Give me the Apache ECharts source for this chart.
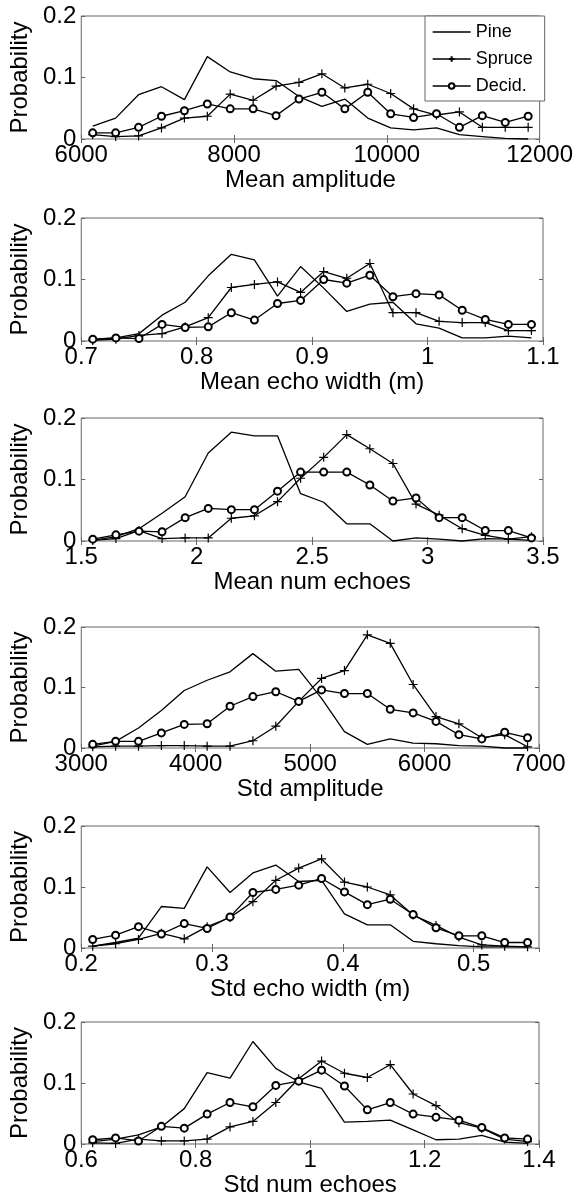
<!DOCTYPE html>
<html>
<head>
<meta charset="UTF-8">
<title>Feature histograms</title>
<script src="https://cdn.jsdelivr.net/npm/echarts@6/dist/echarts.min.js"></script>
<style>
    html,body{margin:0;padding:0;background:#fff;}
    #chart{width:576px;height:1198px;}
</style>
</head>
<body>
<div id="chart"></div>
<script>
// Mean amplitude
var maX = [6150, 6450, 6750, 7050, 7350, 7650, 7950, 8250, 8550, 8850, 9150, 9450, 9750, 10050, 10350, 10650, 10950, 11250, 11550, 11850];
var maPine = [0.021, 0.034, 0.072, 0.085, 0.064, 0.134, 0.109, 0.098, 0.095, 0.069, 0.053, 0.065, 0.034, 0.018, 0.015, 0.018, 0.007, 0.004, 0.001, 0.000];
var maSpruce = [0.007, 0.004, 0.005, 0.018, 0.034, 0.037, 0.073, 0.063, 0.086, 0.092, 0.106, 0.083, 0.089, 0.074, 0.049, 0.039, 0.044, 0.019, 0.019, 0.019];
var maDecid = [0.010, 0.010, 0.019, 0.037, 0.046, 0.057, 0.049, 0.049, 0.038, 0.065, 0.076, 0.049, 0.076, 0.041, 0.035, 0.041, 0.019, 0.038, 0.027, 0.037];

// Mean echo width (m)
var mwX = [0.71, 0.73, 0.75, 0.77, 0.79, 0.81, 0.83, 0.85, 0.87, 0.89, 0.91, 0.93, 0.95, 0.97, 0.99, 1.01, 1.03, 1.05, 1.07, 1.09];
var mwPine = [0.002, 0.005, 0.012, 0.042, 0.063, 0.106, 0.141, 0.132, 0.073, 0.121, 0.086, 0.048, 0.060, 0.063, 0.028, 0.021, 0.005, 0.005, 0.008, 0.005];
var mwSpruce = [0.001, 0.003, 0.009, 0.012, 0.023, 0.038, 0.087, 0.092, 0.096, 0.079, 0.113, 0.102, 0.126, 0.046, 0.046, 0.032, 0.030, 0.030, 0.017, 0.017];
var mwDecid = [0.003, 0.005, 0.004, 0.027, 0.022, 0.023, 0.046, 0.034, 0.061, 0.066, 0.100, 0.094, 0.107, 0.072, 0.077, 0.075, 0.050, 0.035, 0.027, 0.027];

// Mean num echoes
var mnX = [1.55, 1.65, 1.75, 1.85, 1.95, 2.05, 2.15, 2.25, 2.35, 2.45, 2.55, 2.65, 2.75, 2.85, 2.95, 3.05, 3.15, 3.25, 3.35, 3.45];
var mnPine = [0.001, 0.007, 0.020, 0.045, 0.072, 0.143, 0.177, 0.171, 0.171, 0.077, 0.063, 0.028, 0.028, 0.000, 0.005, 0.003, 0.000, 0.004, 0.003, 0.001];
var mnSpruce = [0.001, 0.004, 0.017, 0.004, 0.005, 0.005, 0.037, 0.041, 0.064, 0.102, 0.136, 0.173, 0.150, 0.126, 0.060, 0.042, 0.020, 0.009, 0.003, 0.007];
var mnDecid = [0.003, 0.010, 0.016, 0.015, 0.038, 0.053, 0.051, 0.051, 0.081, 0.112, 0.112, 0.112, 0.091, 0.065, 0.070, 0.038, 0.038, 0.017, 0.017, 0.005];

// Std amplitude
var saX = [3100, 3300, 3500, 3700, 3900, 4100, 4300, 4500, 4700, 4900, 5100, 5300, 5500, 5700, 5900, 6100, 6300, 6500, 6700, 6900];
var saPine = [0.003, 0.011, 0.033, 0.062, 0.095, 0.112, 0.126, 0.156, 0.127, 0.130, 0.082, 0.027, 0.006, 0.015, 0.008, 0.007, 0.004, 0.003, 0.000, 0.000];
var saSpruce = [0.002, 0.003, 0.003, 0.004, 0.004, 0.003, 0.003, 0.012, 0.036, 0.077, 0.115, 0.128, 0.187, 0.173, 0.105, 0.052, 0.040, 0.017, 0.022, 0.002];
var saDecid = [0.006, 0.011, 0.011, 0.025, 0.039, 0.040, 0.069, 0.085, 0.093, 0.077, 0.096, 0.090, 0.090, 0.064, 0.058, 0.044, 0.022, 0.015, 0.026, 0.017];

// Std echo width (m)
var swX = [0.20875, 0.22625, 0.24375, 0.26125, 0.27875, 0.29625, 0.31375, 0.33125, 0.34875, 0.36625, 0.38375, 0.40125, 0.41875, 0.43625, 0.45375, 0.47125, 0.48875, 0.50625, 0.52375, 0.54125];
var swPine = [0.003, 0.009, 0.016, 0.068, 0.065, 0.133, 0.091, 0.123, 0.136, 0.109, 0.111, 0.056, 0.038, 0.038, 0.011, 0.007, 0.004, 0.002, 0.002, 0.002];
var swSpruce = [0.003, 0.007, 0.014, 0.024, 0.015, 0.035, 0.050, 0.076, 0.111, 0.131, 0.146, 0.108, 0.100, 0.087, 0.054, 0.037, 0.018, 0.005, 0.003, 0.002];
var swDecid = [0.014, 0.021, 0.035, 0.023, 0.040, 0.032, 0.051, 0.091, 0.096, 0.103, 0.114, 0.092, 0.071, 0.080, 0.055, 0.033, 0.020, 0.020, 0.009, 0.009];

// Std num echoes
var snX = [0.62, 0.66, 0.70, 0.74, 0.78, 0.82, 0.86, 0.90, 0.94, 0.98, 1.02, 1.06, 1.10, 1.14, 1.18, 1.22, 1.26, 1.30, 1.34, 1.38];
var snPine = [0.004, 0.008, 0.015, 0.028, 0.058, 0.117, 0.108, 0.168, 0.124, 0.102, 0.091, 0.036, 0.037, 0.039, 0.023, 0.007, 0.008, 0.014, 0.003, 0.001];
var snSpruce = [0.002, 0.001, 0.008, 0.005, 0.005, 0.008, 0.028, 0.037, 0.068, 0.107, 0.136, 0.116, 0.109, 0.130, 0.082, 0.063, 0.035, 0.026, 0.008, 0.004];
var snDecid = [0.007, 0.010, 0.005, 0.029, 0.026, 0.049, 0.068, 0.061, 0.096, 0.103, 0.121, 0.095, 0.056, 0.068, 0.049, 0.044, 0.039, 0.027, 0.010, 0.008];

var yTicks = { min: 0, max: 0.2, interval: 0.1 };
var seriesNames = ['Pine', 'Spruce', 'Decid.'];

// box: left, right, top, height (px); gap: distance of the axis title
var panels = [
    { name: 'Mean amplitude', x: maX, ys: [maPine, maSpruce, maDecid], min: 6000, max: 12000, interval: 2000, box: [78, 33, 16, 123], gap: 26 },
    { name: 'Mean echo width (m)', x: mwX, ys: [mwPine, mwSpruce, mwDecid], min: 0.7, max: 1.1, interval: 0.1, box: [78, 33, 218, 123], gap: 24 },
    { name: 'Mean num echoes', x: mnX, ys: [mnPine, mnSpruce, mnDecid], min: 1.5, max: 3.5, interval: 0.5, box: [78, 33, 418, 123], gap: 23 },
    { name: 'Std amplitude', x: saX, ys: [saPine, saSpruce, saDecid], min: 3000, max: 7000, interval: 1000, box: [81, 37, 627, 121], gap: 29 },
    { name: 'Std echo width (m)', x: swX, ys: [swPine, swSpruce, swDecid], min: 0.2, max: 0.55, interval: 0.1, box: [81, 37, 826, 122], gap: 27 },
    { name: 'Std num echoes', x: snX, ys: [snPine, snSpruce, snDecid], min: 0.6, max: 1.4, interval: 0.2, box: [81, 37, 1022, 122], gap: 22 }
];

var FONT = 'Liberation Sans, Arial, Helvetica, sans-serif';
var frame = '#666';
var ink = '#000';

var grids = [], xAxes = [], yAxes = [], series = [];

function fmt(v) {
    return String(+(+v).toFixed(6));
}

function tickAxis(extra) {
    var a = {
        axisLine: { show: false },
        axisTick: { show: true, inside: true, length: 4, lineStyle: { color: frame } },
        splitLine: { show: false }
    };
    for (var k in extra) a[k] = extra[k];
    return a;
}

panels.forEach(function (p, i) {
    grids.push({
        left: p.box[0], right: p.box[1], top: p.box[2], height: p.box[3],
        show: true, borderColor: frame, borderWidth: 1, backgroundColor: '#fff'
    });

    var onTick = Math.abs(p.max / p.interval - Math.round(p.max / p.interval)) < 1e-6;

    // bottom x axis with labels
    xAxes.push(tickAxis({
        type: 'value', gridIndex: i, position: 'bottom',
        min: p.min, max: p.max, interval: p.interval,
        name: p.name, nameLocation: 'middle', nameGap: p.gap,
        nameTextStyle: { fontSize: 24, fontFamily: FONT, color: ink },
        axisLabel: { fontSize: 24, fontFamily: FONT, color: ink, margin: 4, showMaxLabel: onTick, formatter: fmt }
    }));
    // top x axis, ticks only
    xAxes.push(tickAxis({
        type: 'value', gridIndex: i, position: 'top',
        min: p.min, max: p.max, interval: p.interval,
        axisLabel: { show: false }
    }));

    yAxes.push(tickAxis({
        type: 'value', gridIndex: i, position: 'left',
        min: yTicks.min, max: yTicks.max, interval: yTicks.interval,
        name: 'Probability', nameLocation: 'middle', nameGap: 35,
        nameTextStyle: { fontSize: 24, fontFamily: FONT, color: ink },
        axisLabel: { fontSize: 24, fontFamily: FONT, color: ink, margin: 5, formatter: fmt }
    }));
    yAxes.push(tickAxis({
        type: 'value', gridIndex: i, position: 'right',
        min: yTicks.min, max: yTicks.max, interval: yTicks.interval,
        axisLabel: { show: false }
    }));

    var styles = [
        { symbol: 'none' },
        { symbol: 'path://M0,-1L0,1M-1,0L1,0', symbolSize: 9, itemStyle: { color: ink, borderColor: ink, borderWidth: 1.2 } },
        { symbol: 'emptyCircle', symbolSize: 7, itemStyle: { color: ink, borderColor: ink, borderWidth: 1 } }
    ];

    p.ys.forEach(function (vals, s) {
        var st = styles[s];
        var ser = {
            type: 'line',
            name: seriesNames[s],
            xAxisIndex: i * 2,
            yAxisIndex: i * 2,
            data: p.x.map(function (xv, k) { return [xv, vals[k]]; }),
            symbol: st.symbol,
            showSymbol: st.symbol !== 'none',
            lineStyle: { color: ink, width: 1.3 },
            itemStyle: st.itemStyle || { color: ink },
            emphasis: { disabled: true },
            clip: false
        };
        if (st.symbolSize) ser.symbolSize = st.symbolSize;
        series.push(ser);
    });
});

var chart = echarts.init(document.getElementById('chart'), null, { renderer: 'canvas' });
chart.setOption({
    animation: false,
    backgroundColor: '#fff',
    textStyle: { fontFamily: FONT },
    legend: {
        data: [
            { name: 'Pine', itemStyle: { opacity: 0 } },
            { name: 'Spruce' },
            { name: 'Decid.' }
        ],
        orient: 'vertical',
        left: 425, top: 16,
        itemWidth: 38, itemHeight: 7, itemGap: 7,
        padding: [6, 12, 5, 7],
        borderColor: frame, borderWidth: 1, backgroundColor: '#fff',
        textStyle: { fontSize: 18, fontFamily: FONT, color: ink, lineHeight: 20 },
        lineStyle: { width: 1.3 },
        selectedMode: false
    },
    grid: grids,
    xAxis: xAxes,
    yAxis: yAxes,
    series: series
});

window.onresize = function () { chart.resize(); };
</script>
</body>
</html>
